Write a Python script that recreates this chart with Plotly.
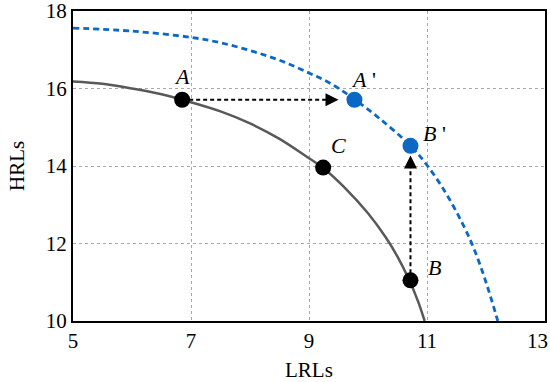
import plotly.graph_objects as go

# production possibility curves
ppf_x = [5.0, 5.5, 6.0, 6.5, 6.85, 7.5, 8.0, 8.5, 9.0, 9.24, 9.6, 10.0, 10.3, 10.5, 10.7, 10.85, 10.96]
ppf_y = [16.18, 16.12, 16.0, 15.85, 15.71, 15.41, 15.1, 14.7, 14.2, 13.95, 13.45, 12.78, 12.16, 11.66, 11.05, 10.5, 10.0]

ppf2_x = [5.0, 6.0, 7.0, 7.5, 8.0, 8.5, 9.0, 9.4, 9.77, 10.2, 10.72, 11.0, 11.3, 11.6, 11.8, 12.0, 12.2]
ppf2_y = [17.56, 17.48, 17.32, 17.18, 16.98, 16.73, 16.4, 16.1, 15.72, 15.22, 14.52, 14.02, 13.35, 12.52, 11.85, 11.0, 10.0]

# labelled points
black_names = ["A", "C", "B"]
black_x = [6.85, 9.24, 10.72]
black_y = [15.71, 13.96, 11.05]

blue_names = ["A", "B"]
blue_x = [9.77, 10.72]
blue_y = [15.71, 14.52]

x_ticks = [5, 7, 9, 11, 13]
x_tick_text = ["5", "7", "9", "11", "13"]
y_ticks = [10, 12, 14, 16, 18]

GRAY = "#58595b"
BLUE = "#0b68c4"
SERIF = "Liberation Serif, Times New Roman, serif"

fig = go.Figure()

fig.add_trace(go.Scatter(x=ppf_x, y=ppf_y, mode="lines", line=dict(color=GRAY, width=2.5, shape="spline")))
fig.add_trace(go.Scatter(x=ppf2_x, y=ppf2_y, mode="lines",
                         line=dict(color=BLUE, width=2.8, dash="6px,4px", shape="spline")))

# dashed arrows A -> A' and B -> B'
head = 0.18
ax0, ay0 = black_x[0], black_y[0]
ax1 = blue_x[0] - 0.27
fig.add_trace(go.Scatter(x=[ax0, ax1 - head], y=[ay0, ay0], mode="lines",
                         line=dict(color="black", width=2, dash="4px,3px")))
fig.add_annotation(x=ax1, y=ay0, ax=ax1 - head, ay=ay0, xref="x", yref="y", axref="x", ayref="y",
                   text="", showarrow=True, arrowhead=2, arrowsize=1.3, arrowwidth=2, arrowcolor="black")

bx0, by0 = black_x[2], black_y[2]
by1 = blue_y[1] - 0.25
fig.add_trace(go.Scatter(x=[bx0, bx0], y=[by0, by1 - head * 1.5], mode="lines",
                         line=dict(color="black", width=2, dash="4px,3px")))
fig.add_annotation(x=bx0, y=by1, ax=bx0, ay=by1 - head * 1.5, xref="x", yref="y", axref="x", ayref="y",
                   text="", showarrow=True, arrowhead=2, arrowsize=1.3, arrowwidth=2, arrowcolor="black")

fig.add_trace(go.Scatter(x=black_x, y=black_y, mode="markers",
                         marker=dict(color="black", size=16, line=dict(width=0))))
fig.add_trace(go.Scatter(x=blue_x, y=blue_y, mode="markers",
                         marker=dict(color=BLUE, size=16, line=dict(width=0))))

# point labels
black_shift = [(0, 23), (15, 22), (24, 13)]
for name, x, y, (dx, dy) in zip(black_names, black_x, black_y, black_shift):
    fig.add_annotation(x=x, y=y, text="<i>" + name + "</i>", showarrow=False, xshift=dx, yshift=dy,
                       font=dict(family=SERIF, size=22, color="black"))
blue_shift = [(9, 20), (24, 12)]
for name, x, y, (dx, dy) in zip(blue_names, blue_x, blue_y, blue_shift):
    fig.add_annotation(x=x, y=y, text="<i>" + name + "</i> '", showarrow=False, xshift=dx, yshift=dy,
                       font=dict(family=SERIF, size=22, color="black"))

# last x tick label is pulled left so it stays inside the page, like the reference
fig.add_annotation(x=x_ticks[-1], y=0, xref="x", yref="paper", text=x_tick_text[-1], showarrow=False,
                   xanchor="right", yanchor="middle", xshift=5, yshift=-20,
                   font=dict(family=SERIF, size=21, color="black"))

# axis titles as annotations so they sit exactly where the reference has them
fig.add_annotation(x=0.5, y=0, xref="paper", yref="paper", text="LRLs", showarrow=False,
                   yanchor="middle", yshift=-49, font=dict(family=SERIF, size=21, color="black"))
fig.add_annotation(x=0, y=0.5, xref="paper", yref="paper", text="HRLs", showarrow=False,
                   textangle=-90, xanchor="center", xshift=-56, font=dict(family=SERIF, size=21, color="black"))

grid = dict(showgrid=True, gridcolor="#a8a8a8", gridwidth=1, griddash="3px,3px",
            showline=True, linecolor="black", linewidth=2, mirror=True, ticks="",
            zeroline=False, automargin=False, ticklabeloverflow="allow",
            tickfont=dict(family=SERIF, size=21, color="black"))

fig.update_xaxes(range=[5, 13], tickvals=x_ticks, ticktext=x_tick_text[:-1] + [""], **grid)
fig.update_yaxes(range=[10, 18], tickvals=y_ticks, **grid)

fig.update_layout(
    width=550, height=382,
    margin=dict(l=73, r=5, t=11, b=61),
    paper_bgcolor="white", plot_bgcolor="white",
    showlegend=False,
)

# drop the default 8px body margin so the figure fills the window exactly
fig.write_html("out.html", config={"displayModeBar": False},
               post_script="document.body.style.margin='0';")
